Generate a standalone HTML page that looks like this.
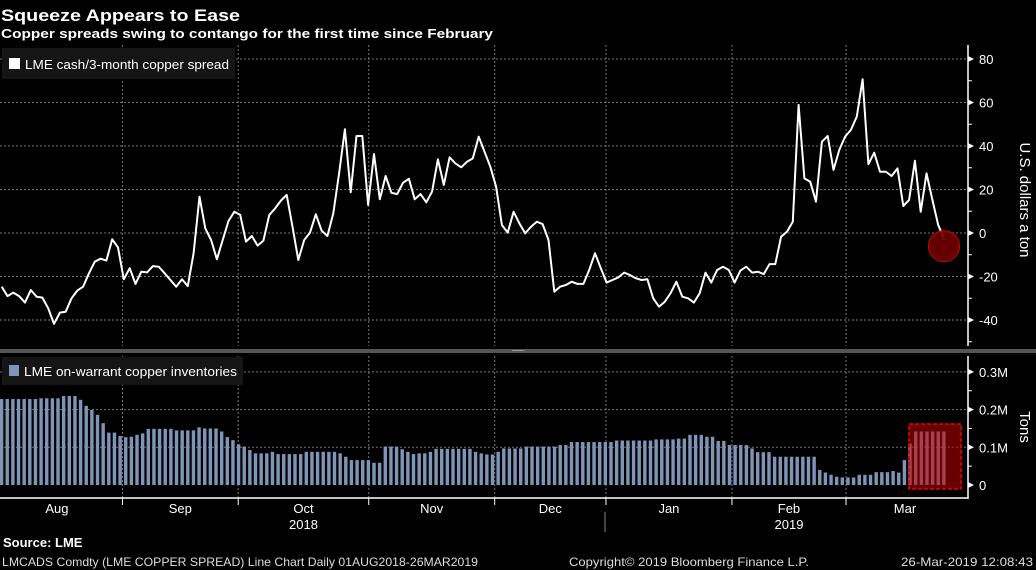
<!DOCTYPE html>
<html><head><meta charset="utf-8">
<style>
html,body{margin:0;padding:0;background:#000;width:1036px;height:570px;overflow:hidden}
svg{display:block}
text{font-family:"Liberation Sans",sans-serif}
</style></head>
<body>
<svg id="c" width="1036" height="570" viewBox="0 0 1036 570" xmlns="http://www.w3.org/2000/svg">
<text x="1" y="21" fill="#fff" font-family="DejaVu Sans" font-weight="bold" font-size="17" textLength="239" lengthAdjust="spacingAndGlyphs">Squeeze Appears to Ease</text>
<text x="1" y="38" fill="#fff" font-family="DejaVu Sans" font-weight="bold" font-size="12.5" textLength="492" lengthAdjust="spacingAndGlyphs">Copper spreads swing to contango for the first time since February</text>
<g id="grid"></g>
<rect x="0" y="349" width="1036" height="4" fill="#555"/>
<rect x="512" y="350" width="12" height="1" fill="#999"/>
<g id="bars"></g>
<g id="line"></g>
<rect x="2" y="48" width="233" height="31" fill="#151515"/>
<rect x="9" y="58" width="11" height="11" fill="#fff"/>
<text x="25" y="69" fill="#fff" font-size="13" textLength="204" lengthAdjust="spacingAndGlyphs">LME cash/3-month copper spread</text>
<rect x="2" y="357" width="241" height="28" fill="#151515"/>
<rect x="9" y="365" width="10" height="11" fill="#7f95b8"/>
<text x="24" y="376" fill="#fff" font-size="13" textLength="213" lengthAdjust="spacingAndGlyphs">LME on-warrant copper inventories</text>
<text transform="translate(1020,200) rotate(90)" text-anchor="middle" fill="#fff" font-size="15">U.S. dollars a ton</text>
<text transform="translate(1020,427) rotate(90)" text-anchor="middle" fill="#fff" font-size="15">Tons</text>
<text x="3" y="547" fill="#fff" font-weight="bold" font-size="13">Source: LME</text>
<text x="2" y="566" fill="#ddd" font-size="12" textLength="476" lengthAdjust="spacingAndGlyphs">LMCADS Comdty (LME COPPER SPREAD) Line Chart  Daily 01AUG2018-26MAR2019</text>
<text x="569" y="566" fill="#ddd" font-size="12" textLength="240" lengthAdjust="spacingAndGlyphs">Copyright© 2019 Bloomberg Finance L.P.</text>
<text x="1033" y="566" text-anchor="end" fill="#ddd" font-size="12" textLength="132" lengthAdjust="spacingAndGlyphs">26-Mar-2019 12:08:43</text>
</svg>
<script>
const spreadValues=[-24.7,-29,-27.4,-29,-32,-26.2,-29.3,-29.7,-34.6,-41.8,-36.6,-36.2,-30,-26.5,-24.7,-18.5,-13.2,-11.8,-12.7,-2.9,-6.6,-21.3,-16.2,-23.4,-17.8,-18.1,-15.2,-15.5,-18.5,-21.6,-24.7,-21.3,-24.4,-9.3,16.7,2.1,-3.2,-12.1,-3.2,5.5,9.8,8.3,-4,-1.4,-5.8,-3.5,8.3,11.3,14.9,17.5,2.9,-12.4,-3.2,0.2,8.6,1.1,-1.4,9,27.4,47.7,18.7,44.6,44.6,12.9,36.3,15.5,26.2,18.5,17.9,23.1,24.9,15.5,17.9,14.1,19.1,33.9,22.1,34.8,32,30.2,32.8,34.3,44.3,37.4,30.5,21.3,3.7,0.2,9.8,
4.4,-0.2,2.9,5.2,4.1,-3.2,-27,-24.7,-23.9,-22.4,-23.4,-23.4,-17,-9.3,-16.2,-22.8,-21.6,-20.4,-18.2,-19.3,-20.8,-21.6,-21.3,-30,-33.9,-31.6,-27.7,-22.4,-29.3,-30,-32,-27.7,-18.2,-22.8,-17,-15.5,-17,-22.8,-17.3,-15.5,-18.2,-17.8,-18.9,-14.3,-14.3,-1.7,0.6,5.2,58.9,25.1,23.6,14.4,42,44.6,29,38.2,44.3,47.4,53.5,70.7,31.7,36.9,28.2,28.2,26.2,29.7,12.4,15.2,33.2,9.8,27.4,15.2,3.7,-2.4];
const inventorySegments=[[7,228],[4,230],[3,236],[1,226],[1,210],[1,199],[1,186],[1,164],[2,139],[1,130],[1,127],[1,128],[1,133],[1,137],[5,149],[4,145],[1,153],[3,150],[1,142],[1,127],[1,119],[1,108],[1,102],[1,93],[3,84],[1,88],[5,82],[6,88],[1,84],[1,75],[4,66],[2,59],[3,102],[1,95],[1,88],[1,82],[2,84],[1,88],[7,96],[1,88],[1,84],[2,81],[1,88],[4,97],[6,102],[2,106],[8,114],[7,118],[4,121],[2,123],[3,133],[2,128],[2,117],[4,106],[1,97],[3,87],[8,75],[1,40],[1,33],[1,27],[1,22],[3,20],[3,27],[3,34],[1,37],[1,33],[1,66],[1,110],[6,142]];
const inventoryValues=[];inventorySegments.forEach(s=>{for(let k=0;k<s[0];k++)inventoryValues.push(s[1]);});
const spreadTicks=[80,60,40,20,0,-20,-40];
const spreadTickLabels=["80","60","40","20","0","-20","-40"];
const invTicks=[300,200,100,0];
const invTickLabels=["0.3M","0.2M","0.1M","0"];
const monthLabels=["Aug","Sep","Oct","Nov","Dec","Jan","Feb","Mar"];
const monthStart=[-1.5,21.6,42,65,87.2,106.8,129,149.1];
const yearLabels=["2018","2019"];
const yearMonthIdx=[2,6];

const NS="http://www.w3.org/2000/svg";
const svg=document.getElementById('c');
const X0=1.7,AXX=968,ENDX=944;
const STEP=(ENDX-X0)/(inventoryValues.length-1);
const xi=i=>X0+i*STEP;
const LSTEP=(ENDX-X0)/(spreadValues.length-1);
const xl=i=>X0+i*LSTEP;
const xm=i=>X0+i*5.675-5.675/2+1;
const ys=v=>233-v*2.175;
const yb=v=>485-v*0.377;
function mk(tag,at,parent){const e=document.createElementNS(NS,tag);for(const k in at)e.setAttribute(k,at[k]);(parent||svg).appendChild(e);return e;}
const grid=document.getElementById('grid');
spreadTicks.forEach((t,i)=>{
  const gl=mk('line',{x1:0,x2:AXX,y1:ys(t),y2:ys(t),stroke:'#777','stroke-dasharray':'2,2','stroke-width':1},grid);
  
  
  const tk=mk('path',{d:`M${AXX} ${ys(t)-3}L${AXX+6} ${ys(t)}L${AXX} ${ys(t)+3}Z`,fill:'#fff'},grid);
  
  
  const lb=mk('text',{x:AXX+11,y:ys(t)+5,fill:'#fff','font-size':13},grid);
  lb.textContent=spreadTickLabels[i];
  
  
});
for(let v=-50;v<=70;v+=20){const m=mk('line',{x1:AXX,x2:AXX+4,y1:ys(v),y2:ys(v),stroke:'#fff'},grid);
  
  }
invTicks.forEach((t,i)=>{
  if(t>0){const gl=mk('line',{x1:0,x2:AXX,y1:yb(t),y2:yb(t),stroke:'#777','stroke-dasharray':'2,2'},grid);
  
  }
  const tk=mk('path',{d:`M${AXX} ${yb(t)-3}L${AXX+6} ${yb(t)}L${AXX} ${yb(t)+3}Z`,fill:'#fff'},grid);
  
  
  const lb=mk('text',{x:AXX+11,y:yb(t)+5,fill:'#fff','font-size':13},grid);
  lb.textContent=invTickLabels[i];
  
  
});
[50,150,250].forEach(v=>{const m=mk('line',{x1:AXX,x2:AXX+4,y1:yb(v),y2:yb(v),stroke:'#fff'},grid);
  
  });
for(let m=1;m<monthStart.length;m++){
  const x=xm(monthStart[m]);
  const g1=mk('line',{x1:x,x2:x,y1:45,y2:346,stroke:'#777','stroke-dasharray':'2,2'},grid);
  
  
  const g2=mk('line',{x1:x,x2:x,y1:356,y2:498,stroke:'#777','stroke-dasharray':'2,2'},grid);
  
  
  const t=mk('line',{x1:x,x2:x,y1:498,y2:505,stroke:'#fff'},grid);
  
  
}
monthLabels.forEach((l,m)=>{
  const a=xm(monthStart[m]);const b=m+1<monthStart.length?xm(monthStart[m+1]):AXX-4;
  const tx=mk('text',{x:(a+b)/2,y:513,fill:'#fff','font-size':13,'text-anchor':'middle'},grid);
  tx.textContent=l;
  
  
});
yearLabels.forEach((l,k)=>{
  const m=yearMonthIdx[k];const a=xm(monthStart[m]),b=xm(monthStart[m+1]);
  const tx=mk('text',{x:(a+b)/2,y:529,fill:'#fff','font-size':13,'text-anchor':'middle'},grid);
  tx.textContent=l;
  
  
});
const ysep=mk('line',{x1:605,x2:605,y1:512,y2:532,stroke:'#888'},grid);


const ax1=mk('line',{x1:AXX,x2:AXX,y1:45,y2:346,stroke:'#fff','stroke-width':1.5},grid);


const ax2=mk('line',{x1:AXX,x2:AXX,y1:356,y2:499,stroke:'#fff','stroke-width':1.5},grid);


const ax3=mk('line',{x1:0,x2:AXX,y1:498,y2:498,stroke:'#fff','stroke-width':1.5},grid);


const bg=document.getElementById('bars');
inventoryValues.forEach((v,i)=>{
  const r=mk('rect',{x:xi(i)-1.8,y:yb(v),width:3.4,height:yb(0)-yb(v),fill:'#7f95b8'},bg);
  
  
});
const hl=mk('rect',{x:909,y:424,width:52,height:65,fill:'rgba(190,0,0,0.55)',stroke:'#e00','stroke-dasharray':'4,2','stroke-width':1.5},bg);


const lg=document.getElementById('line');
const p=mk('polyline',{points:spreadValues.map((v,i)=>xl(i).toFixed(1)+','+ys(v).toFixed(1)).join(' '),fill:'none',stroke:'#fff','stroke-width':2,'stroke-linejoin':'round'},lg);


const li=spreadValues.length-1;
const c=mk('circle',{cx:xl(li),cy:ys(spreadValues[li])+8,r:15.5,fill:'rgba(110,0,0,0.92)',stroke:'#c00','stroke-width':1},lg);


</script>
</body></html>
